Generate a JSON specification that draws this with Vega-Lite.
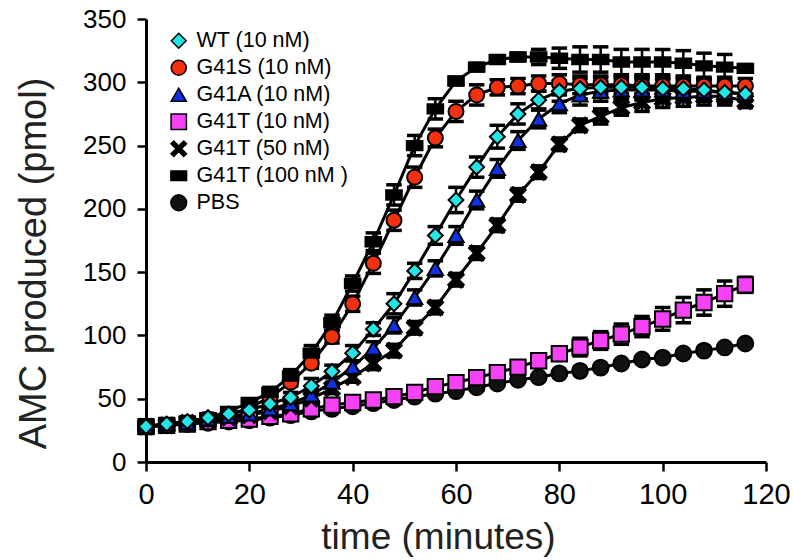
{
"$schema":"https://vega.github.io/schema/vega-lite/v6.json",
"width":620,"height":443,
"autosize":{"type":"none"},
"padding":{"left":146,"top":19,"right":27,"bottom":98},
"config":{"view":{"stroke":null},"font":"Liberation Sans",
"axis":{"domainColor":"black","domainWidth":3,"tickColor":"black","tickWidth":2.5,"tickSize":9,"labelColor":"black","labelFont":"Liberation Sans","titleFont":"Liberation Sans","titleFontWeight":"normal","titleColor":"#222","grid":false,"labelFlush":false},
"legend":{"labelFontSize":21.5,"labelFont":"Liberation Sans","labelColor":"black","rowPadding":4,"labelOffset":7,"padding":0,"symbolStrokeWidth":1.5}},
"data":{"values":[
{"s":"PBS","t":0,"v":28,"e":1},{"s":"PBS","t":4,"v":29,"e":1},{"s":"PBS","t":8,"v":30,"e":1},{"s":"PBS","t":12,"v":31,"e":1},{"s":"PBS","t":16,"v":32,"e":1},{"s":"PBS","t":20,"v":33,"e":1},{"s":"PBS","t":24,"v":35,"e":1},{"s":"PBS","t":28,"v":37,"e":1},{"s":"PBS","t":32,"v":40,"e":1},{"s":"PBS","t":36,"v":42,"e":1},{"s":"PBS","t":40,"v":44,"e":1},{"s":"PBS","t":44,"v":46.5,"e":1},{"s":"PBS","t":48,"v":49,"e":1},{"s":"PBS","t":52,"v":51.6,"e":1},{"s":"PBS","t":56,"v":54,"e":1},{"s":"PBS","t":60,"v":56,"e":1},{"s":"PBS","t":64,"v":59,"e":1},{"s":"PBS","t":68,"v":62,"e":1},{"s":"PBS","t":72,"v":65,"e":1},{"s":"PBS","t":76,"v":67,"e":1},{"s":"PBS","t":80,"v":70,"e":1},{"s":"PBS","t":84,"v":72,"e":1},{"s":"PBS","t":88,"v":74.6,"e":1},{"s":"PBS","t":92,"v":77.8,"e":1},{"s":"PBS","t":96,"v":81,"e":1},{"s":"PBS","t":100,"v":82.5,"e":1},{"s":"PBS","t":104,"v":85.7,"e":1},{"s":"PBS","t":108,"v":88,"e":1},{"s":"PBS","t":112,"v":90.5,"e":1},{"s":"PBS","t":116,"v":93.6,"e":1},
{"s":"G41T (10 nM)","t":0,"v":28,"e":2},{"s":"G41T (10 nM)","t":4,"v":29,"e":2},{"s":"G41T (10 nM)","t":8,"v":30,"e":2},{"s":"G41T (10 nM)","t":12,"v":32,"e":2},{"s":"G41T (10 nM)","t":16,"v":33,"e":2},{"s":"G41T (10 nM)","t":20,"v":34,"e":2},{"s":"G41T (10 nM)","t":24,"v":36,"e":2},{"s":"G41T (10 nM)","t":28,"v":38,"e":2},{"s":"G41T (10 nM)","t":32,"v":42,"e":2},{"s":"G41T (10 nM)","t":36,"v":45,"e":2},{"s":"G41T (10 nM)","t":40,"v":47,"e":2},{"s":"G41T (10 nM)","t":44,"v":49,"e":2},{"s":"G41T (10 nM)","t":48,"v":51.6,"e":2},{"s":"G41T (10 nM)","t":52,"v":55,"e":2},{"s":"G41T (10 nM)","t":56,"v":59.5,"e":3},{"s":"G41T (10 nM)","t":60,"v":62.7,"e":3},{"s":"G41T (10 nM)","t":64,"v":66.7,"e":3},{"s":"G41T (10 nM)","t":68,"v":70.6,"e":3},{"s":"G41T (10 nM)","t":72,"v":75,"e":4},{"s":"G41T (10 nM)","t":76,"v":80,"e":5},{"s":"G41T (10 nM)","t":80,"v":85.5,"e":5},{"s":"G41T (10 nM)","t":84,"v":90.8,"e":7},{"s":"G41T (10 nM)","t":88,"v":96,"e":7},{"s":"G41T (10 nM)","t":92,"v":101,"e":8},{"s":"G41T (10 nM)","t":96,"v":107,"e":8},{"s":"G41T (10 nM)","t":100,"v":113,"e":9},{"s":"G41T (10 nM)","t":104,"v":120,"e":10},{"s":"G41T (10 nM)","t":108,"v":126,"e":10},{"s":"G41T (10 nM)","t":112,"v":133,"e":10},{"s":"G41T (10 nM)","t":116,"v":140,"e":6},
{"s":"G41T (50 nM)","t":0,"v":28,"e":1.5},{"s":"G41T (50 nM)","t":4,"v":29,"e":1.5},{"s":"G41T (50 nM)","t":8,"v":31,"e":1.5},{"s":"G41T (50 nM)","t":12,"v":33,"e":1.5},{"s":"G41T (50 nM)","t":16,"v":35,"e":1.5},{"s":"G41T (50 nM)","t":20,"v":37,"e":2},{"s":"G41T (50 nM)","t":24,"v":40,"e":3},{"s":"G41T (50 nM)","t":28,"v":44,"e":3},{"s":"G41T (50 nM)","t":32,"v":50,"e":4},{"s":"G41T (50 nM)","t":36,"v":58,"e":4},{"s":"G41T (50 nM)","t":40,"v":67,"e":4},{"s":"G41T (50 nM)","t":44,"v":78,"e":5},{"s":"G41T (50 nM)","t":48,"v":88,"e":5},{"s":"G41T (50 nM)","t":52,"v":106,"e":5},{"s":"G41T (50 nM)","t":56,"v":122,"e":5},{"s":"G41T (50 nM)","t":60,"v":144,"e":5},{"s":"G41T (50 nM)","t":64,"v":165,"e":5},{"s":"G41T (50 nM)","t":68,"v":187,"e":5},{"s":"G41T (50 nM)","t":72,"v":211,"e":5},{"s":"G41T (50 nM)","t":76,"v":229,"e":5},{"s":"G41T (50 nM)","t":80,"v":251,"e":5},{"s":"G41T (50 nM)","t":84,"v":266,"e":5},{"s":"G41T (50 nM)","t":88,"v":273,"e":6},{"s":"G41T (50 nM)","t":92,"v":280,"e":6},{"s":"G41T (50 nM)","t":96,"v":284,"e":7},{"s":"G41T (50 nM)","t":100,"v":287,"e":7},{"s":"G41T (50 nM)","t":104,"v":288,"e":7},{"s":"G41T (50 nM)","t":108,"v":289,"e":7},{"s":"G41T (50 nM)","t":112,"v":289,"e":7},{"s":"G41T (50 nM)","t":116,"v":285,"e":5},
{"s":"G41S (10 nM)","t":0,"v":28,"e":1.5},{"s":"G41S (10 nM)","t":4,"v":29,"e":1.5},{"s":"G41S (10 nM)","t":8,"v":31,"e":1.5},{"s":"G41S (10 nM)","t":12,"v":34,"e":1.5},{"s":"G41S (10 nM)","t":16,"v":37,"e":1.5},{"s":"G41S (10 nM)","t":20,"v":43,"e":2},{"s":"G41S (10 nM)","t":24,"v":51,"e":3},{"s":"G41S (10 nM)","t":28,"v":63,"e":3},{"s":"G41S (10 nM)","t":32,"v":78,"e":4},{"s":"G41S (10 nM)","t":36,"v":99,"e":5},{"s":"G41S (10 nM)","t":40,"v":125,"e":6},{"s":"G41S (10 nM)","t":44,"v":157,"e":8},{"s":"G41S (10 nM)","t":48,"v":191,"e":8},{"s":"G41S (10 nM)","t":52,"v":225,"e":8},{"s":"G41S (10 nM)","t":56,"v":256,"e":7},{"s":"G41S (10 nM)","t":60,"v":277,"e":8},{"s":"G41S (10 nM)","t":64,"v":290,"e":8},{"s":"G41S (10 nM)","t":68,"v":296,"e":6},{"s":"G41S (10 nM)","t":72,"v":297,"e":6},{"s":"G41S (10 nM)","t":76,"v":299,"e":6},{"s":"G41S (10 nM)","t":80,"v":299,"e":7},{"s":"G41S (10 nM)","t":84,"v":298,"e":7},{"s":"G41S (10 nM)","t":88,"v":298,"e":7},{"s":"G41S (10 nM)","t":92,"v":298,"e":7},{"s":"G41S (10 nM)","t":96,"v":297,"e":7},{"s":"G41S (10 nM)","t":100,"v":297,"e":7},{"s":"G41S (10 nM)","t":104,"v":297,"e":7},{"s":"G41S (10 nM)","t":108,"v":297,"e":7},{"s":"G41S (10 nM)","t":112,"v":297,"e":7},{"s":"G41S (10 nM)","t":116,"v":297,"e":6},
{"s":"G41T (100 nM )","t":0,"v":28.5,"e":1.5},{"s":"G41T (100 nM )","t":4,"v":30,"e":1.5},{"s":"G41T (100 nM )","t":8,"v":32,"e":1.5},{"s":"G41T (100 nM )","t":12,"v":35,"e":1.5},{"s":"G41T (100 nM )","t":16,"v":40,"e":1.5},{"s":"G41T (100 nM )","t":20,"v":47,"e":3},{"s":"G41T (100 nM )","t":24,"v":55,"e":4},{"s":"G41T (100 nM )","t":28,"v":68,"e":5},{"s":"G41T (100 nM )","t":32,"v":86,"e":6},{"s":"G41T (100 nM )","t":36,"v":110,"e":6},{"s":"G41T (100 nM )","t":40,"v":141,"e":6},{"s":"G41T (100 nM )","t":44,"v":174,"e":7},{"s":"G41T (100 nM )","t":48,"v":211,"e":8},{"s":"G41T (100 nM )","t":52,"v":250,"e":8},{"s":"G41T (100 nM )","t":56,"v":279,"e":8},{"s":"G41T (100 nM )","t":60,"v":301,"e":3},{"s":"G41T (100 nM )","t":64,"v":312,"e":3},{"s":"G41T (100 nM )","t":68,"v":318,"e":3},{"s":"G41T (100 nM )","t":72,"v":320,"e":3},{"s":"G41T (100 nM )","t":76,"v":320,"e":6},{"s":"G41T (100 nM )","t":80,"v":319,"e":8},{"s":"G41T (100 nM )","t":84,"v":318,"e":10},{"s":"G41T (100 nM )","t":88,"v":318,"e":10},{"s":"G41T (100 nM )","t":92,"v":316,"e":10},{"s":"G41T (100 nM )","t":96,"v":316,"e":10},{"s":"G41T (100 nM )","t":100,"v":316,"e":10},{"s":"G41T (100 nM )","t":104,"v":315,"e":10},{"s":"G41T (100 nM )","t":108,"v":313,"e":10},{"s":"G41T (100 nM )","t":112,"v":312,"e":10},{"s":"G41T (100 nM )","t":116,"v":311,"e":3},
{"s":"G41A (10 nM)","t":0,"v":28,"e":1.5},{"s":"G41A (10 nM)","t":4,"v":30,"e":1.5},{"s":"G41A (10 nM)","t":8,"v":31,"e":1.5},{"s":"G41A (10 nM)","t":12,"v":34,"e":1.5},{"s":"G41A (10 nM)","t":16,"v":36,"e":1.5},{"s":"G41A (10 nM)","t":20,"v":38,"e":2},{"s":"G41A (10 nM)","t":24,"v":42,"e":3},{"s":"G41A (10 nM)","t":28,"v":46,"e":3},{"s":"G41A (10 nM)","t":32,"v":53,"e":4},{"s":"G41A (10 nM)","t":36,"v":63,"e":4},{"s":"G41A (10 nM)","t":40,"v":75,"e":5},{"s":"G41A (10 nM)","t":44,"v":90,"e":5},{"s":"G41A (10 nM)","t":48,"v":108,"e":6},{"s":"G41A (10 nM)","t":52,"v":130,"e":6},{"s":"G41A (10 nM)","t":56,"v":153,"e":6},{"s":"G41A (10 nM)","t":60,"v":179,"e":7},{"s":"G41A (10 nM)","t":64,"v":207,"e":7},{"s":"G41A (10 nM)","t":68,"v":232,"e":7},{"s":"G41A (10 nM)","t":72,"v":254,"e":7},{"s":"G41A (10 nM)","t":76,"v":271,"e":7},{"s":"G41A (10 nM)","t":80,"v":283,"e":7},{"s":"G41A (10 nM)","t":84,"v":290,"e":8},{"s":"G41A (10 nM)","t":88,"v":293,"e":8},{"s":"G41A (10 nM)","t":92,"v":294,"e":8},{"s":"G41A (10 nM)","t":96,"v":294,"e":8},{"s":"G41A (10 nM)","t":100,"v":294,"e":8},{"s":"G41A (10 nM)","t":104,"v":293,"e":8},{"s":"G41A (10 nM)","t":108,"v":293,"e":8},{"s":"G41A (10 nM)","t":112,"v":292,"e":8},{"s":"G41A (10 nM)","t":116,"v":291,"e":6},
{"s":"WT (10 nM)","t":0,"v":28,"e":1.5},{"s":"WT (10 nM)","t":4,"v":30,"e":1.5},{"s":"WT (10 nM)","t":8,"v":32,"e":1.5},{"s":"WT (10 nM)","t":12,"v":35,"e":1.5},{"s":"WT (10 nM)","t":16,"v":38,"e":1.5},{"s":"WT (10 nM)","t":20,"v":41,"e":2},{"s":"WT (10 nM)","t":24,"v":46,"e":3},{"s":"WT (10 nM)","t":28,"v":51,"e":4},{"s":"WT (10 nM)","t":32,"v":60,"e":6},{"s":"WT (10 nM)","t":36,"v":71.5,"e":5},{"s":"WT (10 nM)","t":40,"v":86,"e":6},{"s":"WT (10 nM)","t":44,"v":105,"e":5},{"s":"WT (10 nM)","t":48,"v":125,"e":8},{"s":"WT (10 nM)","t":52,"v":151,"e":6},{"s":"WT (10 nM)","t":56,"v":179,"e":7},{"s":"WT (10 nM)","t":60,"v":207,"e":10},{"s":"WT (10 nM)","t":64,"v":233,"e":8},{"s":"WT (10 nM)","t":68,"v":257,"e":9},{"s":"WT (10 nM)","t":72,"v":275,"e":8},{"s":"WT (10 nM)","t":76,"v":286,"e":7},{"s":"WT (10 nM)","t":80,"v":293,"e":8},{"s":"WT (10 nM)","t":84,"v":295,"e":8},{"s":"WT (10 nM)","t":88,"v":296,"e":8},{"s":"WT (10 nM)","t":92,"v":296,"e":8},{"s":"WT (10 nM)","t":96,"v":296,"e":8},{"s":"WT (10 nM)","t":100,"v":295,"e":8},{"s":"WT (10 nM)","t":104,"v":295,"e":8},{"s":"WT (10 nM)","t":108,"v":294,"e":8},{"s":"WT (10 nM)","t":112,"v":292,"e":8},{"s":"WT (10 nM)","t":116,"v":291,"e":6}
]},
"encoding":{
"x":{"field":"t","type":"quantitative","scale":{"domain":[0,120],"nice":false},"axis":{"values":[0,20,40,60,80,100,120],"title":"time (minutes)","labelFontSize":29,"labelPadding":9,"titleFontSize":37,"titleX":292,"titleY":86,"titleBaseline":"alphabetic","titleAlign":"center"}},
"y":{"field":"v","type":"quantitative","scale":{"domain":[0,350],"nice":false},"axis":{"values":[0,50,100,150,200,250,300,350],"title":"AMC produced (pmol)","labelFontSize":26,"labelPadding":11,"titleFontSize":38,"titleX":-112,"titleY":244,"titleBaseline":"middle","titleAlign":"center","titleAngle":-90}}
},
"layer":[
{"mark":{"type":"line","color":"black","strokeWidth":3},"encoding":{"detail":{"field":"s"}}},
{"mark":{"type":"errorbar","color":"black","rule":{"stroke":"black","strokeWidth":2.5,"opacity":1},"ticks":{"stroke":"black","size":13,"strokeWidth":2.5,"opacity":1}},"encoding":{"yError":{"field":"e"}}},
{"mark":{"type":"point","filled":true,"opacity":1,"strokeWidth":2},
"encoding":{
"shape":{"field":"s","type":"nominal","scale":{"domain":["WT (10 nM)","G41S (10 nM)","G41A (10 nM)","G41T (10 nM)","G41T (50 nM)","G41T (100 nM )","PBS"],"range":["diamond","circle","triangle-up","square","M-1,-0.65L-0.65,-1L0,-0.35L0.65,-1L1,-0.65L0.35,0L1,0.65L0.65,1L0,0.35L-0.65,1L-1,0.65L-0.35,0Z","M-1,-0.6H1V0.6H-1Z","circle"]},"legend":{"title":null,"orient":"none","legendX":22,"legendY":11}},
"fill":{"field":"s","type":"nominal","scale":{"domain":["WT (10 nM)","G41S (10 nM)","G41A (10 nM)","G41T (10 nM)","G41T (50 nM)","G41T (100 nM )","PBS"],"range":["#22E6E6","#F5300F","#1030E6","#F542F5","#000000","#000000","#111111"]},"legend":{"title":null,"orient":"none","legendX":22,"legendY":11}},
"stroke":{"field":"s","type":"nominal","scale":{"domain":["WT (10 nM)","G41S (10 nM)","G41A (10 nM)","G41T (10 nM)","G41T (50 nM)","G41T (100 nM )","PBS"],"range":["#000000","#000000","#000000","#000000","#000000","#000000","#000000"]},"legend":{"title":null,"orient":"none","legendX":22,"legendY":11}},
"size":{"field":"s","type":"nominal","scale":{"domain":["WT (10 nM)","G41S (10 nM)","G41A (10 nM)","G41T (10 nM)","G41T (50 nM)","G41T (100 nM )","PBS"],"range":[220,250,220,220,190,310,330]},"legend":{"title":null,"orient":"none","legendX":22,"legendY":11}}
}}
]
}
